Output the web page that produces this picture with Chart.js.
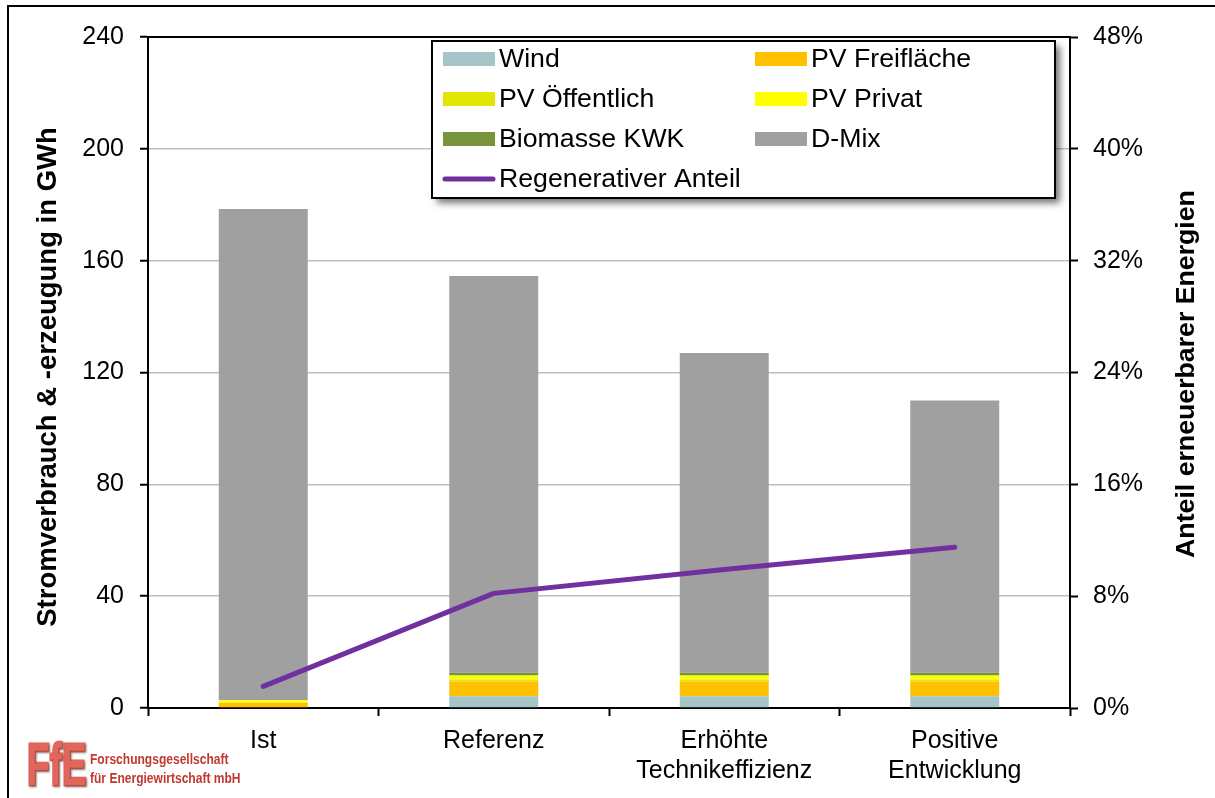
<!DOCTYPE html>
<html>
<head>
<meta charset="utf-8">
<script src="https://cdn.jsdelivr.net/npm/chart.js@4/dist/chart.umd.min.js"></script>
<style>
  html, body { margin: 0; padding: 0; background: #ffffff; }
  #wrap { position: relative; width: 1215px; height: 798px; }
  canvas { display: block; }
</style>
</head>
<body>
<div id="wrap"><canvas id="c" width="1215" height="798"></canvas></div>
<script>
// Scenarios (x categories)
const categories = ['Ist', 'Referenz', ['Erhöhte', 'Technikeffizienz'], ['Positive', 'Entwicklung']];

// Electricity generation by source, GWh
const wind       = [0.0, 4.2, 4.2, 4.2];
const pvFrei     = [1.8, 5.3, 5.3, 5.3];
const pvOeff     = [0.2, 0.7, 0.7, 0.7];
const pvPrivat   = [0.8, 1.4, 1.4, 1.4];
const biomasse   = [0.0, 1.0, 1.0, 1.0];
const dMix       = [175.7, 141.9, 114.4, 97.4];

// Share of renewable energy, %
const regAnteil  = [1.55, 8.2, 9.9, 11.5];

// Axis ticks
const leftTicks  = [0, 40, 80, 120, 160, 200, 240];
const rightTicks = [0, 8, 16, 24, 32, 40, 48];

// Axis titles
const leftTitle  = 'Stromverbrauch & -erzeugung in GWh';
const rightTitle = 'Anteil erneuerbarer Energien';

const FONT = "'Liberation Sans', Arial, Helvetica, sans-serif";

// White background plus outer chart frame and plot-area top edge
const chartFrame = {
  id: 'chartFrame',
  beforeDraw(chart) {
    const ctx = chart.ctx;
    ctx.save();
    ctx.fillStyle = '#ffffff';
    ctx.fillRect(0, 0, chart.width, chart.height);
    ctx.strokeStyle = '#000000';
    ctx.lineWidth = 2;
    ctx.strokeRect(8, 6, chart.width + 20, chart.height + 20);
    ctx.restore();
  },
  afterDatasetsDraw(chart) {
    const ctx = chart.ctx;
    const a = chart.chartArea;
    ctx.save();
    ctx.strokeStyle = '#000000';
    ctx.lineWidth = 2;
    ctx.beginPath();
    ctx.moveTo(a.left - 1, a.top);
    ctx.lineTo(a.right + 1, a.top);
    ctx.stroke();
    ctx.restore();
  }
};

// Both axis titles read bottom-to-top
const axisTitles = {
  id: 'axisTitles',
  afterDraw(chart) {
    const ctx = chart.ctx;
    const draw = (text, size, baselineX, centerY) => {
      ctx.save();
      ctx.translate(baselineX, centerY);
      ctx.rotate(-Math.PI / 2);
      ctx.font = 'bold ' + size + 'px ' + FONT;
      ctx.fillStyle = '#000000';
      ctx.textAlign = 'center';
      ctx.textBaseline = 'alphabetic';
      ctx.fillText(text, 0, 0);
      ctx.restore();
    };
    draw(leftTitle, 27.5, 56, 377);
    draw(rightTitle, 26.7, 1194, 374);
  }
};

// Boxed two-column legend with drop shadow
const boxLegend = {
  id: 'boxLegend',
  afterDraw(chart) {
    const ctx = chart.ctx;
    const box = { x: 432, y: 41, w: 623, h: 157 };
    ctx.save();
    ctx.shadowColor = 'rgba(0,0,0,0.55)';
    ctx.shadowBlur = 7;
    ctx.shadowOffsetX = 5;
    ctx.shadowOffsetY = 5;
    ctx.fillStyle = '#ffffff';
    ctx.fillRect(box.x, box.y, box.w, box.h);
    ctx.restore();
    ctx.save();
    ctx.strokeStyle = '#000000';
    ctx.lineWidth = 2;
    ctx.strokeRect(box.x, box.y, box.w, box.h);

    const colX = [443, 755];
    const rowY = [59, 99, 139, 179];
    ctx.font = '26.7px ' + FONT;
    ctx.textBaseline = 'middle';
    ctx.textAlign = 'left';
    chart.data.datasets.forEach((ds, i) => {
      const col = i % 2, row = Math.floor(i / 2);
      const x = colX[col], y = rowY[row];
      if (ds.type === 'line') {
        ctx.strokeStyle = ds.borderColor;
        ctx.lineWidth = 5;
        ctx.lineCap = 'round';
        ctx.beginPath();
        ctx.moveTo(x + 2, y);
        ctx.lineTo(x + 50, y);
        ctx.stroke();
      } else {
        ctx.fillStyle = ds.backgroundColor;
        ctx.fillRect(x, y - 7, 52, 14);
      }
      ctx.fillStyle = '#000000';
      ctx.fillText(ds.label, x + 56, y + 1);
    });
    ctx.restore();
  }
};

// Institute logo in the lower left corner
const logoMark = {
  id: 'logoMark',
  afterDraw(chart) {
    const ctx = chart.ctx;
    ctx.save();
    const grad = ctx.createLinearGradient(0, 740, 0, 788);
    grad.addColorStop(0, '#e3665c');
    grad.addColorStop(1, '#b5302a');
    ctx.shadowColor = 'rgba(0,0,0,0.35)';
    ctx.shadowBlur = 2;
    ctx.shadowOffsetX = 1;
    ctx.shadowOffsetY = 1;
    ctx.fillStyle = grad;
    ctx.strokeStyle = grad;
    ctx.lineWidth = 3;
    ctx.lineJoin = 'miter';
    ctx.translate(27, 785);
    ctx.scale(0.64, 1.02);
    ctx.font = 'bold 58px ' + FONT;
    ctx.textBaseline = 'alphabetic';
    ctx.strokeText('FfE', 0, 0);
    ctx.fillText('FfE', 0, 0);
    ctx.restore();

    ctx.save();
    ctx.fillStyle = '#c0392f';
    ctx.font = 'bold 14px ' + FONT;
    ctx.textBaseline = 'alphabetic';
    ctx.translate(90, 0);
    ctx.scale(0.86, 1);
    ctx.fillText('Forschungsgesellschaft', 0, 764);
    ctx.fillText('für Energiewirtschaft mbH', 0, 783);
    ctx.restore();
  }
};

const tickFont = { family: FONT, size: 25 };

new Chart(document.getElementById('c'), {
  type: 'bar',
  data: {
    labels: categories,
    datasets: [
      { label: 'Wind',           data: wind,     backgroundColor: '#a5c5c8', stack: 's' },
      { label: 'PV Freifläche',  data: pvFrei,   backgroundColor: '#ffc000', stack: 's' },
      { label: 'PV Öffentlich',  data: pvOeff,   backgroundColor: '#e2e600', stack: 's' },
      { label: 'PV Privat',      data: pvPrivat, backgroundColor: '#ffff00', stack: 's' },
      { label: 'Biomasse KWK',   data: biomasse, backgroundColor: '#77933c', stack: 's' },
      { label: 'D-Mix',          data: dMix,     backgroundColor: '#a0a0a0', stack: 's' },
      {
        type: 'line', label: 'Regenerativer Anteil', data: regAnteil, yAxisID: 'y1',
        borderColor: '#7030a0', backgroundColor: '#7030a0', borderWidth: 5,
        borderCapStyle: 'round', borderJoinStyle: 'round',
        pointRadius: 0, tension: 0, order: -1
      }
    ]
  },
  options: {
    responsive: false,
    animation: false,
    events: [],
    datasets: { bar: { barPercentage: 0.386, categoryPercentage: 1.0 } },
    layout: { padding: { top: 37, left: 0, right: 0, bottom: 0 } },
    plugins: { legend: { display: false }, tooltip: { enabled: false } },
    scales: {
      x: {
        stacked: true,
        grid: { offset: true, drawOnChartArea: false, tickLength: 8, tickColor: '#000', tickWidth: 2 },
        border: { color: '#000', width: 2 },
        ticks: { font: tickFont, color: '#000', padding: 10, maxRotation: 0, autoSkip: false },
        afterFit(s) { s.height = 90; }
      },
      y: {
        stacked: true,
        position: 'left',
        min: 0, max: 240,
        afterBuildTicks(s) { s.ticks = leftTicks.map(v => ({ value: v })); },
        ticks: { font: tickFont, color: '#000', padding: 16 },
        grid: { color: '#bfbfbf', lineWidth: 1.5, tickColor: '#000', tickLength: 8, tickWidth: 2 },
        border: { color: '#000', width: 2 },
        afterFit(s) { s.width = 148; }
      },
      y1: {
        position: 'right',
        min: 0, max: 48,
        afterBuildTicks(s) { s.ticks = rightTicks.map(v => ({ value: v })); },
        ticks: { font: tickFont, color: '#000', padding: 15, callback: v => v + '%' },
        grid: { drawOnChartArea: false, tickColor: '#000', tickLength: 8, tickWidth: 2 },
        border: { color: '#000', width: 2 },
        afterFit(s) { s.width = 145; }
      }
    }
  },
  plugins: [chartFrame, axisTitles, boxLegend, logoMark]
});
</script>
</body>
</html>
